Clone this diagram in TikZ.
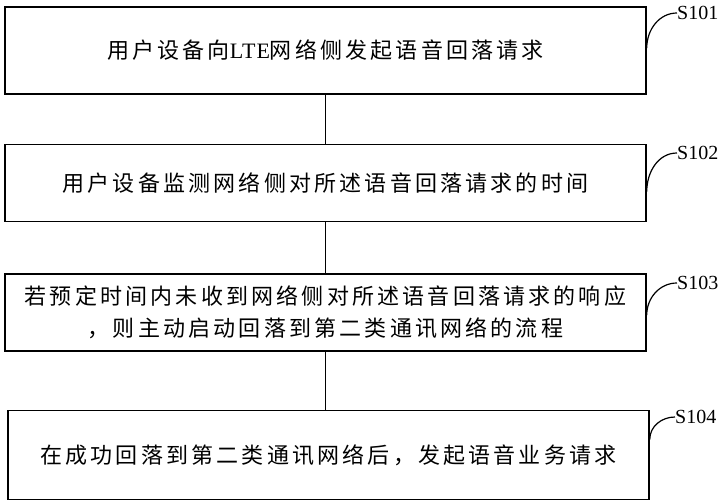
\documentclass[tikz,border=0pt]{standalone}
\usepackage{fontspec}
\usepackage{tikz}
\usetikzlibrary{positioning}
\setmainfont{Liberation Serif}
\newfontfamily\cjk[LetterSpace=14.5]{Noto Sans CJK SC}
\newfontfamily\lat[LetterSpace=4]{Liberation Serif}

\begin{document}
\begin{tikzpicture}[
  x=1pt, y=1pt,
  node distance=49pt,
  stepbox/.style={draw, line width=1.5pt, minimum width=641pt, inner sep=0pt,
    align=center, font=\cjk\fontsize{22}{32}\selectfont},
  lbl/.style={font=\fontsize{20}{24}\selectfont, inner sep=0pt, anchor=west},
  lead/.style={line width=1.2pt}
]
\useasboundingbox (0,0) rectangle (726,-500);

\node[stepbox, minimum height=87pt] (b1) at (325.5,-50.5) {用户设备向{\lat LTE}网络侧发起语音回落请求};
\node[stepbox, minimum height=77pt, below=of b1] (b2) {用户设备监测网络侧对所述语音回落请求的时间};
\node[stepbox, minimum height=77pt, below=51pt of b2] (b3) {若预定时间内未收到网络侧对所述语音回落请求的响应\\，则主动启动回落到第二类通讯网络的流程};
\node[stepbox, minimum height=89pt, below=58pt of b3, xshift=3pt] (b4) {在成功回落到第二类通讯网络后，发起语音业务请求};

\draw[lead] (b1) -- (b2);
\draw[lead] (b2) -- (b3);
\draw[lead] (b3.south) -- (b3.south |- b4.north);

% step labels
\node[lbl] (l1) at (677,-13) {S101};
\node[lbl] (l2) at (677,-153) {S102};
\node[lbl] (l3) at (677,-283) {S103};
\node[lbl] (l4) at (675,-417) {S104};

\draw[lead] ([yshift=2.5pt]b1.east) to[out=90, in=180] (l1.west);
\draw[lead] ([yshift=-8.5pt]b2.east) to[out=90, in=180] (l2.west);
\draw[lead] ([yshift=-2.5pt]b3.east) to[out=90, in=180] (l3.west);
\draw[lead] ([yshift=15.5pt]b4.east) to[out=90, in=180] (l4.west);
\end{tikzpicture}
\end{document}
